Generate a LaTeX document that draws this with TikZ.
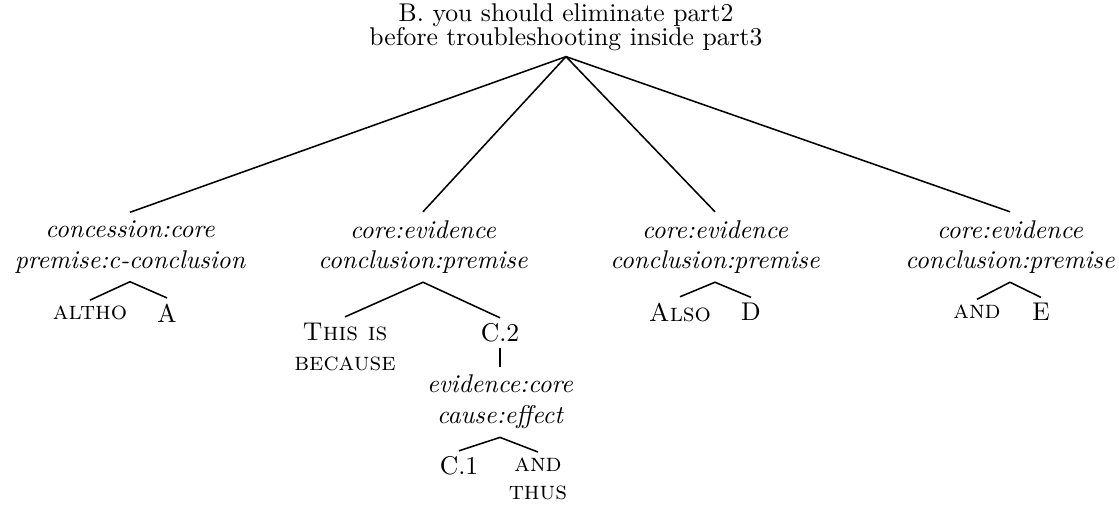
\documentclass[tikz,border=0pt]{standalone}
\begin{document}
\begin{tikzpicture}[x=0.39pt,y=-0.39pt,semithick,
  rel/.style={font=\itshape,align=center,inner sep=3pt},
  leaf/.style={align=center,inner sep=2pt}]
\useasboundingbox (0,0) rectangle (1119,504);

\node[align=center,inner sep=2pt] (b) at (566,27) {B. you should eliminate part2\\[-2.5pt]before troubleshooting inside part3};

\node[rel] (r1) at (130,247) {concession:core\\premise:c-conclusion};
\node[rel] (r2) at (423,247) {core:evidence\\conclusion:premise};
\node[rel] (r3) at (715,247) {core:evidence\\conclusion:premise};
\node[rel] (r4) at (1010,247) {core:evidence\\conclusion:premise};
\node[rel] (r5) at (500,402) {evidence:core\\cause:effect};

\node[leaf] (altho) at (90,313) {\textsc{altho}};
\node[leaf] (a) at (167,313) {A};
\node[leaf] (because) at (345,347) {\textsc{This is}\\\textsc{because}};
\node[leaf] (c2) at (500,333) {C.2};
\node[leaf] (c1) at (459,466) {C.1};
\node[leaf] (thus) at (538,479) {\textsc{and}\\[-1pt]\textsc{thus}};
\node[leaf] (also) at (680,312) {\textsc{Also}};
\node[leaf] (d) at (751,312) {D};
\node[leaf] (and) at (977,312) {\textsc{and}};
\node[leaf] (e) at (1041,312) {E};

\draw (b.south) -- (r1.north);
\draw (b.south) -- (r2.north);
\draw (b.south) -- (r3.north);
\draw (b.south) -- (r4.north);
\draw (altho.north) -- (r1.south) -- (a.north);
\draw (because.north) -- (r2.south) -- (c2.north);
\draw (c2.south) -- (r5.north);
\draw (c1.north) -- (r5.south) -- (thus.north);
\draw (also.north) -- (r3.south) -- (d.north);
\draw (and.north) -- (r4.south) -- (e.north);
\end{tikzpicture}
\end{document}
